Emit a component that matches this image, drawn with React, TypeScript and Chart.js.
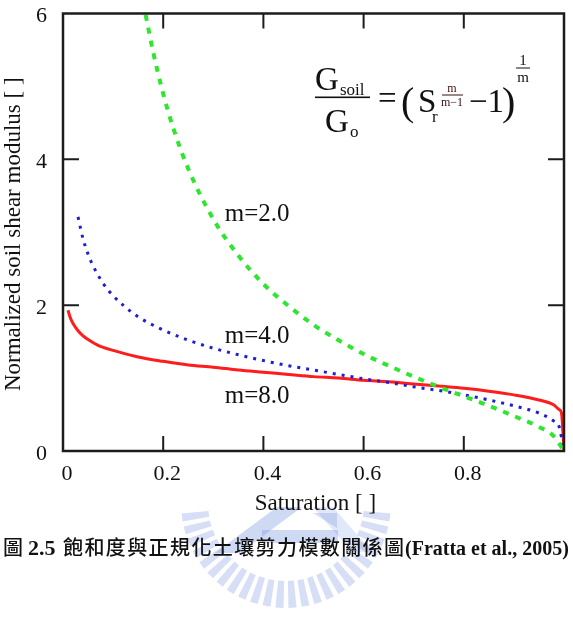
import React, { useEffect, useRef } from 'react';
import { Chart, registerables } from 'chart.js';

Chart.register(...registerables);

// Saturation values and normalized shear modulus for each curve parameter m
const satM2 = [0.165, 0.18, 0.2, 0.22, 0.25, 0.3, 0.35, 0.4, 0.45, 0.5, 0.55, 0.6, 0.65, 0.7, 0.75, 0.8, 0.85, 0.9, 0.95, 0.98, 1.0];
const gM2 = [5.98, 5.47, 4.9, 4.43, 3.87, 3.18, 2.68, 2.29, 1.99, 1.73, 1.52, 1.33, 1.17, 1.02, 0.88, 0.75, 0.62, 0.48, 0.33, 0.2, 0];

const satM4 = [0.03, 0.04, 0.05, 0.06, 0.08, 0.1, 0.12, 0.15, 0.2, 0.25, 0.3, 0.35, 0.4, 0.45, 0.5, 0.55, 0.6, 0.65, 0.7, 0.75, 0.8, 0.85, 0.9, 0.95, 0.98, 0.99, 1.0];
const gM4 = [3.21, 2.91, 2.7, 2.54, 2.3, 2.13, 2.0, 1.84, 1.66, 1.52, 1.41, 1.32, 1.24, 1.17, 1.11, 1.05, 0.99, 0.94, 0.88, 0.83, 0.77, 0.7, 0.62, 0.52, 0.41, 0.34, 0];

const satM8 = [0.01, 0.015, 0.02, 0.03, 0.04, 0.05, 0.07, 0.1, 0.15, 0.2, 0.25, 0.3, 0.35, 0.4, 0.45, 0.5, 0.55, 0.6, 0.65, 0.7, 0.75, 0.8, 0.85, 0.9, 0.95, 0.98, 0.99, 0.995, 1.0];
const gM8 = [1.93, 1.82, 1.75, 1.65, 1.58, 1.53, 1.45, 1.38, 1.29, 1.23, 1.18, 1.15, 1.11, 1.08, 1.05, 1.02, 1.0, 0.97, 0.95, 0.92, 0.89, 0.86, 0.82, 0.77, 0.7, 0.63, 0.57, 0.52, 0];

const xTickLabels = ['0', '0.2', '0.4', '0.6', '0.8', ''];
const yTickLabels = ['0', '2', '4', '6'];
const curveLabels = ['m=2.0', 'm=4.0', 'm=8.0'];

const xTitle = 'Saturation [ ]';
const yTitle = 'Normalized soil shear modulus [ ]';
const captionFig = '圖';
const captionNum = '2.5';
const captionText = '飽和度與正規化土壤剪力模數關係圖';
const captionRef = '(Fratta et al., 2005)';

const SERIF = '"Liberation Serif", "Times New Roman", serif';
const CJK = '"Noto Sans CJK TC", "Noto Sans CJK SC", sans-serif';

const toPoints = (xs: number[], ys: number[]) => xs.map((x, i) => ({ x, y: ys[i] }));

// Faint emblem behind the caption
const emblemPlugin = {
  id: 'emblem',
  beforeDraw(chart: any) {
    const ctx = chart.ctx;
    ctx.save();
    const cx = 286;
    const cy = 503;
    ctx.fillStyle = 'rgba(120,150,225,0.30)';
    const n = 23;
    for (let i = 0; i <= n; i++) {
      const a = ((8 + (i * 164) / n) * Math.PI) / 180;
      const h = (2.2 * Math.PI) / 180;
      const r0 = 78;
      const r1 = 105;
      ctx.beginPath();
      ctx.moveTo(cx + r0 * Math.cos(a - h), cy + r0 * Math.sin(a - h));
      ctx.lineTo(cx + r1 * Math.cos(a - h), cy + r1 * Math.sin(a - h));
      ctx.lineTo(cx + r1 * Math.cos(a + h), cy + r1 * Math.sin(a + h));
      ctx.lineTo(cx + r0 * Math.cos(a + h), cy + r0 * Math.sin(a + h));
      ctx.closePath();
      ctx.fill();
    }
    const poly = (pts: number[][], color: string) => {
      ctx.fillStyle = color;
      ctx.beginPath();
      pts.forEach(([x, y], i) => (i ? ctx.lineTo(x, y) : ctx.moveTo(x, y)));
      ctx.closePath();
      ctx.fill();
    };
    poly([[215, 553], [240, 553], [302, 507], [277, 507]], 'rgba(120,150,225,0.36)');
    poly([[313, 507], [333, 507], [372, 552], [352, 552]], 'rgba(120,150,225,0.22)');
    poly([[313, 513], [337, 513], [337, 528]], 'rgba(120,150,225,0.30)');
    poly([[262, 530], [338, 530], [338, 543], [262, 543]], 'rgba(120,150,225,0.36)');
    ctx.restore();
  },
};

// Frame, inward ticks, axis titles, curve labels and the formula
const decorPlugin = {
  id: 'decor',
  afterDatasetsDraw(chart: any) {
    const ctx = chart.ctx;
    const { left, right, top, bottom } = chart.chartArea;
    const xs = chart.scales.x;
    const ys = chart.scales.y;
    ctx.save();
    ctx.strokeStyle = '#1c1c1c';
    ctx.lineWidth = 2.5;
    ctx.strokeRect(left, top, right - left, bottom - top);
    ctx.lineWidth = 2;
    ctx.beginPath();
    xs.ticks.forEach((t: any) => {
      if (t.value <= 0 || t.value >= 1) return;
      const px = xs.getPixelForValue(t.value);
      ctx.moveTo(px, bottom);
      ctx.lineTo(px, bottom - 15);
      ctx.moveTo(px, top);
      ctx.lineTo(px, top + 15);
    });
    ys.ticks.forEach((t: any) => {
      if (t.value <= 0 || t.value >= 6) return;
      const py = ys.getPixelForValue(t.value);
      ctx.moveTo(left, py);
      ctx.lineTo(left + 16, py);
      ctx.moveTo(right, py);
      ctx.lineTo(right - 16, py);
    });
    ctx.stroke();

    ctx.fillStyle = '#111';
    ctx.textBaseline = 'alphabetic';

    // curve labels
    ctx.font = `25px ${SERIF}`;
    ctx.textAlign = 'left';
    const lx = xs.getPixelForValue(0.323);
    ctx.fillText(curveLabels[0], lx, ys.getPixelForValue(3.15));
    ctx.fillText(curveLabels[1], lx, ys.getPixelForValue(1.48));
    ctx.fillText(curveLabels[2], lx, ys.getPixelForValue(0.66));

    // axis titles
    ctx.font = `23px ${SERIF}`;
    ctx.textAlign = 'center';
    ctx.fillText(xTitle, (left + right) / 2 + 2, 510);
    ctx.save();
    ctx.translate(20, (top + bottom) / 2 + 2);
    ctx.rotate(-Math.PI / 2);
    ctx.fillText(yTitle, 0, 0);
    ctx.restore();

    // formula
    ctx.textAlign = 'left';
    ctx.font = `33px ${SERIF}`;
    ctx.fillText('G', 315, 90);
    ctx.fillText('G', 325, 132);
    ctx.fillText('=', 378, 109);
    ctx.fillText('S', 418, 112);
    ctx.fillText('\u22121', 469, 112);
    ctx.font = `17px ${SERIF}`;
    ctx.fillText('soil', 340, 95);
    ctx.fillText('o', 350, 137);
    ctx.fillText('r', 432, 122);
    ctx.fillRect(315, 96.5, 55, 1.6);
    ctx.font = `40px ${SERIF}`;
    ctx.fillText('(', 401, 115);
    ctx.fillText(')', 502, 115);
    ctx.textAlign = 'center';
    ctx.fillStyle = '#3a1010';
    ctx.font = `12px ${SERIF}`;
    ctx.fillText('m', 452, 92);
    ctx.fillText('m\u22121', 452, 106);
    ctx.fillRect(442, 94.5, 21, 1);
    ctx.fillStyle = '#111';
    ctx.font = `15px ${SERIF}`;
    ctx.fillText('1', 523, 65);
    ctx.fillText('m', 523, 82);
    ctx.fillRect(516, 67.5, 14, 1);
    ctx.restore();
  },
};

export default function App() {
  const canvasRef = useRef<HTMLCanvasElement | null>(null);

  useEffect(() => {
    if (!canvasRef.current) return;
    const chart = new Chart(canvasRef.current, {
      type: 'line',
      data: {
        datasets: [
          {
            label: curveLabels[0],
            data: toPoints(satM2, gM2),
            borderColor: '#2ee62e',
            borderWidth: 4,
            borderDash: [6, 7],
            pointRadius: 0,
            cubicInterpolationMode: 'monotone',
          },
          {
            label: curveLabels[1],
            data: toPoints(satM4, gM4),
            borderColor: '#1e1ed2',
            borderWidth: 3,
            borderDash: [3, 6],
            pointRadius: 0,
            cubicInterpolationMode: 'monotone',
          },
          {
            label: curveLabels[2],
            data: toPoints(satM8, gM8),
            borderColor: '#ff1c1c',
            borderWidth: 3,
            pointRadius: 0,
            cubicInterpolationMode: 'monotone',
          },
        ],
      },
      options: {
        responsive: false,
        animation: false,
        devicePixelRatio: 1,
        layout: { padding: { left: 0, right: 9, top: 13, bottom: 0 } },
        plugins: { legend: { display: false }, tooltip: { enabled: false } },
        scales: {
          x: {
            type: 'linear',
            min: 0,
            max: 1,
            grid: { display: false },
            border: { display: false },
            ticks: {
              stepSize: 0.2,
              autoSkip: false,
              maxRotation: 0,
              padding: 2,
              labelOffset: 4,
              color: '#111',
              font: { size: 22, family: SERIF },
              callback: (_v: any, i: number) => xTickLabels[i] ?? '',
            },
            afterFit: (s: any) => {
              s.height = 171;
            },
          },
          y: {
            type: 'linear',
            min: 0,
            max: 6,
            grid: { display: false },
            border: { display: false },
            ticks: {
              stepSize: 2,
              padding: 8,
              labelOffset: 3,
              color: '#111',
              font: { size: 22, family: SERIF, lineHeight: 0.5 },
              callback: (_v: any, i: number) => yTickLabels[i] ?? '',
            },
            afterFit: (s: any) => {
              s.width = 63;
            },
          },
        },
      } as any,
      plugins: [emblemPlugin, decorPlugin],
    });
    return () => chart.destroy();
  }, []);

  const box = (w: number): React.CSSProperties => ({ display: 'inline-block', width: w });

  return (
    <div style={{ position: 'absolute', left: 0, top: 0, width: 573, height: 622, background: '#fff' }}>
      <canvas ref={canvasRef} width={573} height={622} style={{ display: 'block' }} />
      <div
        style={{
          position: 'absolute',
          left: 3,
          top: 535,
          whiteSpace: 'nowrap',
          fontWeight: 'bold',
          fontSize: 20,
          lineHeight: '24px',
          color: '#111',
          fontFamily: SERIF,
        }}
      >
        <span style={{ ...box(25), fontFamily: CJK, fontWeight: 500 }}>{captionFig}</span>
        <span style={{ ...box(35), fontSize: 22 }}>{captionNum}</span>
        <span style={{ ...box(342), fontFamily: CJK, fontWeight: 500, letterSpacing: 1.4 }}>{captionText}</span>
        <span>{captionRef}</span>
      </div>
    </div>
  );
}
